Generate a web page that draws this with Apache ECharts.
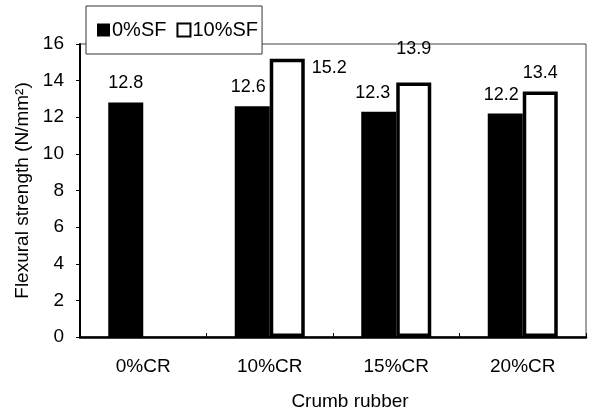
<!DOCTYPE html>
<html>
<head>
<meta charset="utf-8">
<script src="https://cdn.jsdelivr.net/npm/echarts@6/dist/echarts.min.js"></script>
<style>
  html, body { margin: 0; padding: 0; background: #fff; }
  #chart { width: 589px; height: 416px; }
</style>
</head>
<body>
<div id="chart"></div>
<script>
// data
const categories = ['0%CR', '10%CR', '15%CR', '20%CR'];
const sf0 = [12.8, 12.6, 12.3, 12.2];
const sf10 = [null, 15.2, 13.9, 13.4];
const yTicks = [0, 2, 4, 6, 8, 10, 12, 14, 16];

const FONT = '"Liberation Sans", Arial, sans-serif';

// hand-placed value labels like in the original excel chart
const sf0Labels = [
  { distance: 11, offset: [0, 0] },
  { distance: 10, offset: [-4, 0] },
  { distance: 10, offset: [-6, 0] },
  { distance: 10, offset: [-4, 0] }
];
const sf10Labels = [
  {},
  { position: [42, 0], align: 'left', verticalAlign: 'top', distance: 0 },
  { distance: 24, offset: [0, 0] },
  { distance: 10, offset: [0, 0] }
];

const chart = echarts.init(document.getElementById('chart'));

const option = {
  animation: false,
  textStyle: { fontFamily: FONT, color: '#000' },
  legend: {
    left: 86,
    top: 6,
    orient: 'horizontal',
    padding: [14, 4, 14, 11],
    itemGap: 10,
    itemWidth: 13,
    itemHeight: 13,
    icon: 'rect',
    backgroundColor: '#fff',
    borderColor: '#333',
    borderWidth: 1,
    borderRadius: 0,
    z: 10,
    textStyle: { fontSize: 20, fontFamily: FONT, color: '#000', padding: [0, 0, 0, -3] },
    data: ['0%SF', '10%SF']
  },
  grid: {
    left: 80,
    right: 3,
    top: 44,
    bottom: 78,
    show: true,
    borderColor: '#444',
    borderWidth: 1,
    backgroundColor: 'transparent'
  },
  xAxis: {
    type: 'category',
    data: categories,
    name: 'Crumb rubber',
    nameLocation: 'middle',
    nameGap: 55,
    nameTextStyle: { fontSize: 19, fontFamily: FONT, color: '#000', padding: [0, 0, 0, 34] },
    axisLine: { lineStyle: { color: '#000', width: 2.5 } },
    axisTick: { show: true, inside: true, length: 4, lineStyle: { color: '#000', width: 1 } },
    axisLabel: { fontSize: 19, fontFamily: FONT, color: '#000', margin: 20 },
    splitLine: { show: false }
  },
  yAxis: {
    type: 'value',
    min: yTicks[0],
    max: yTicks[yTicks.length - 1],
    interval: yTicks[1] - yTicks[0],
    name: 'Flexural strength (N/mm²)',
    nameLocation: 'middle',
    nameGap: 47,
    nameTextStyle: { fontSize: 19, fontFamily: FONT, color: '#000' },
    axisLine: { show: true, lineStyle: { color: '#000', width: 2 } },
    axisTick: { show: true, inside: false, length: 4, lineStyle: { color: '#000', width: 1 } },
    axisLabel: { fontSize: 19, fontFamily: FONT, color: '#000', margin: 16 },
    splitLine: { show: false }
  },
  series: [
    {
      name: '0%SF',
      type: 'bar',
      barWidth: 35,
      barGap: '0%',
      itemStyle: { color: '#000' },
      label: {
        show: true,
        position: 'top',
        fontSize: 18,
        fontFamily: FONT,
        color: '#000',
        formatter: p => p.value.toFixed(1)
      },
      data: sf0.map((v, i) => ({ value: v, label: sf0Labels[i] }))
    },
    {
      name: '10%SF',
      type: 'bar',
      barWidth: 35,
      barGap: '0%',
      itemStyle: { color: '#fff', borderColor: '#000', borderWidth: 3.5 },
      label: {
        show: true,
        position: 'top',
        fontSize: 18,
        fontFamily: FONT,
        color: '#000',
        formatter: p => (p.value == null ? '' : p.value.toFixed(1))
      },
      data: sf10.map((v, i) => ({ value: v, label: sf10Labels[i] }))
    }
  ]
};

chart.setOption(option);
window.addEventListener('resize', () => chart.resize());
</script>
</body>
</html>
